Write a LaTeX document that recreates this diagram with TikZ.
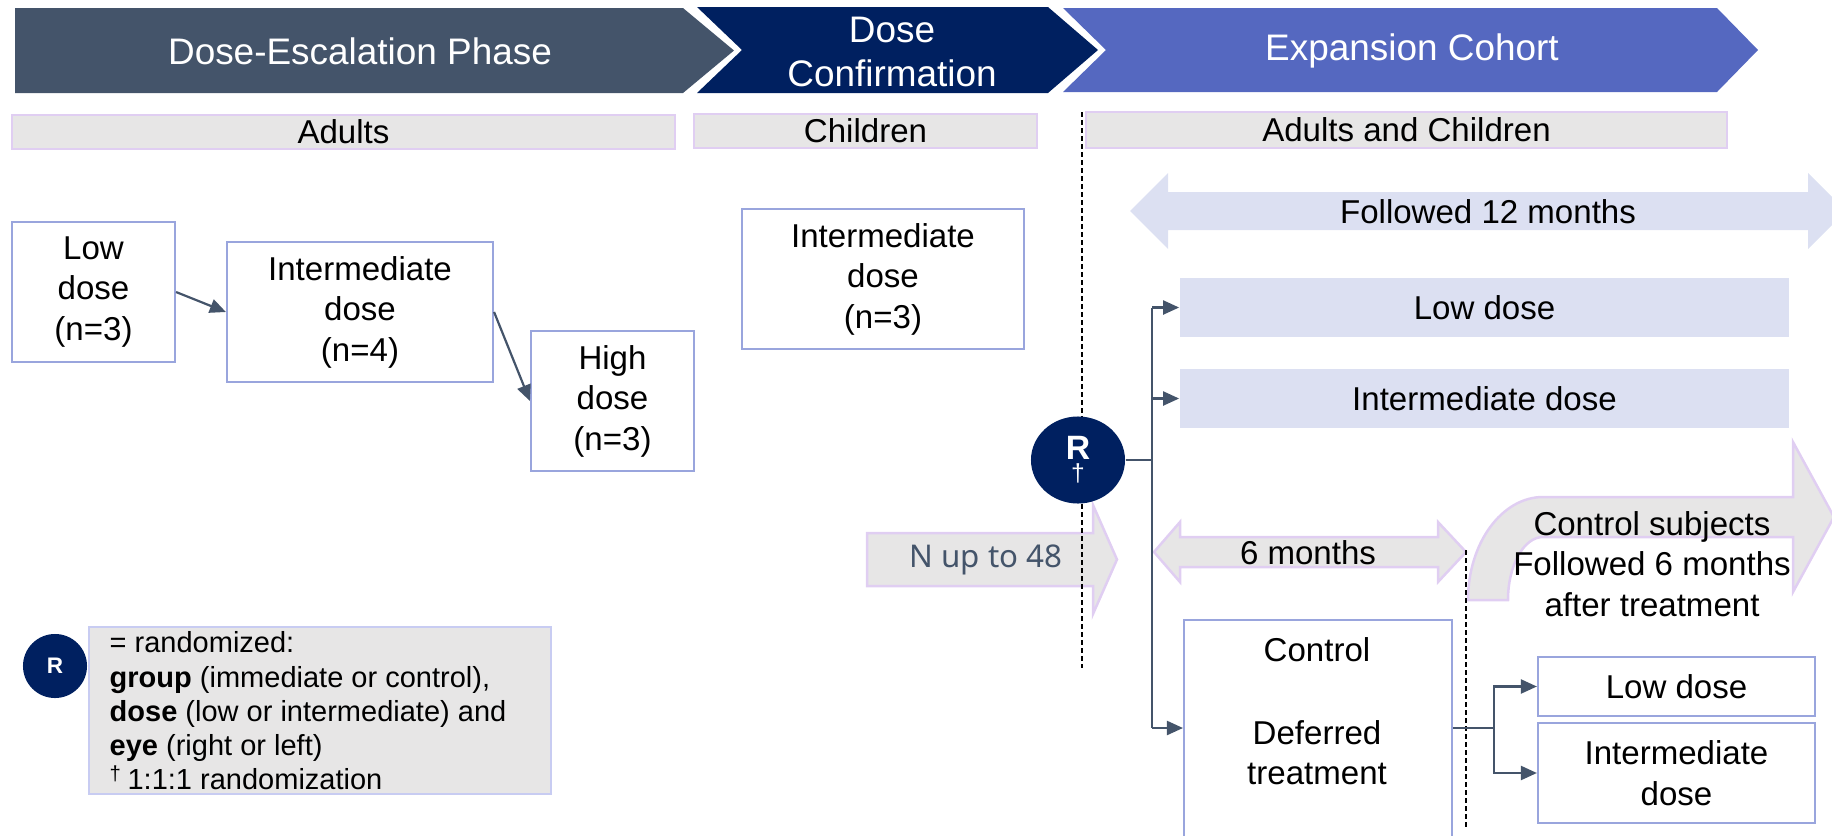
\documentclass[tikz,border=0pt]{standalone}
\usepackage{fontspec}
\setmainfont{Liberation Sans}
\newfontfamily\notosans{Noto Sans}
\usetikzlibrary{arrows.meta,shapes.geometric,calc}

\definecolor{slate}{HTML}{44546A}
\definecolor{navy}{HTML}{002060}
\definecolor{periw}{HTML}{5568C0}
\definecolor{panelgray}{HTML}{E7E6E6}
\definecolor{lavline}{HTML}{E0CEF2}
\definecolor{lavfill}{HTML}{DCE0F2}
\definecolor{boxblue}{HTML}{99A5DD}
\definecolor{legline}{HTML}{C8CCF2}

\newcommand\bodyfont{\fontsize{9.4}{11.5}\selectfont}
\newcommand\hdfont{\fontsize{10.5}{12.4}\selectfont}
\newcommand\keyfont{\fontsize{8.25}{9.75}\selectfont}

\begin{document}
\begin{tikzpicture}[x=0.01cm,y=-0.01cm,
  hd/.style={font=\hdfont,text=white,align=center,inner sep=0pt},
  txt/.style={font=\bodyfont,align=center,inner sep=0pt},
  wbox/.style={draw=boxblue,line width=0.02cm,fill=white,inner sep=0pt,align=center,font=\bodyfont},
  bar/.style={draw=lavline,line width=0.025cm,fill=panelgray,inner sep=0pt,font=\bodyfont},
  lbox/.style={fill=lavfill,inner sep=0pt,font=\bodyfont},
  blockarrow/.style={fill=panelgray,draw=lavline,line width=0.025cm},
  link/.style={draw=slate,line width=0.022cm},
  linkarrow/.style={link,-{Triangle[length=0.16cm,width=0.14cm]}},
  divider/.style={draw=black,line width=0.015cm,dash pattern=on 0.05cm off 0.03cm},
]
\useasboundingbox (0,0) rectangle (1832,836);
\clip (0,0) rectangle (1832,836);

% phase chevrons
\fill[slate] (15,8) -- (683,8) -- (734,50.5) -- (683,93) -- (15,93) -- cycle;
\fill[navy] (697,7) -- (1048,7) -- (1098,50) -- (1048,93) -- (697,93) -- (742,50) -- cycle;
\fill[periw] (1063,8) -- (1717,8) -- (1758,50) -- (1717,92) -- (1063,92) -- (1106,50) -- cycle;
\node[hd] (phase1) at (360,51) {Dose-Escalation Phase};
\node[hd] (phase2) at (892,52) {Dose\\Confirmation};
\node[hd] (phase3) at (1412,51) {Expansion Cohort};

% population bars
\node[bar,minimum width=6.63cm,minimum height=0.34cm] (adults) at (343.5,132) {Adults};
\node[bar,minimum width=3.43cm,minimum height=0.34cm] (children) at (865.5,131) {Children};
\node[bar,minimum width=6.41cm,minimum height=0.36cm] (both) at (1406.5,130) {Adults and Children};

% dose escalation
\node[wbox,minimum width=1.63cm,minimum height=1.40cm] (low) at (93.5,292) {Low\\dose\\(n=3)};
\node[wbox,minimum width=2.66cm,minimum height=1.40cm] (mid) at (360,312) {Intermediate\\dose\\(n=4)};
\node[wbox,minimum width=1.63cm,minimum height=1.40cm] (high) at (612.5,401) {High\\dose\\(n=3)};
\draw[linkarrow] (low.east) -- (mid.west);
\draw[linkarrow] (mid.east) -- (high.west);

% dose confirmation
\node[wbox,minimum width=2.82cm,minimum height=1.40cm] (kids) at (883,279) {Intermediate\\dose\\(n=3)};

% enrolment arrow
\filldraw[blockarrow] (867,533) -- (1093,533) -- (1093,505) -- (1117,559.5) -- (1093,614) -- (1093,586) -- (867,586) -- cycle;
\node[font=\notosans\fontsize{8.9}{10}\selectfont,text=slate,inner sep=0pt] (nup) at (986,560) {N up to 48};

% phase divider
\coordinate (d1top) at (1082,112);
\coordinate (d1bot) at (1082,668);
\draw[divider] (d1top) -- (d1bot);

% randomisation
\node[ellipse,fill=navy,minimum width=0.94cm,minimum height=0.87cm,inner sep=0pt,text=white,align=center,font=\fontsize{9.6}{6.2}\selectfont] (rnd) at (1078,460) {\textbf{R}\\{\fontsize{7}{6.2}\selectfont †}};

% follow-up span
\fill[lavfill] (1130,211) -- (1168,173) -- (1168,192) -- (1808,192) -- (1808,173) -- (1846,211) -- (1808,249) -- (1808,230) -- (1168,230) -- (1168,249) -- cycle;
\node[txt] (follow12) at (1488,212) {Followed 12 months};

% expansion arms
\node[lbox,minimum width=6.09cm,minimum height=0.59cm] (elow) at (1484.5,307.5) {Low dose\hspace{0.5cm}};
\node[lbox,minimum width=6.09cm,minimum height=0.59cm] (eint) at (1484.5,398.5) {Intermediate dose};

% six month span
\filldraw[blockarrow] (1154,552) -- (1180,522) -- (1180,537) -- (1438,537) -- (1438,522) -- (1466,552) -- (1438,582) -- (1438,567) -- (1180,567) -- (1180,582) -- cycle;
\node[txt] (six) at (1308,553) {6 months};

% control follow-up bent arrow
\filldraw[blockarrow] (1468,600) .. controls (1468,543) and (1502,497) .. (1543,497) -- (1793,497) -- (1793,442) -- (1834,517) -- (1793,592) -- (1793,537) -- (1543,537) .. controls (1524,537) and (1508,565) .. (1508,600) -- cycle;
\node[txt] (ctrlsub) at (1652,564) {Control subjects\\Followed 6 months\\after treatment};

% control arm
\node[wbox,anchor=north west,minimum width=2.68cm,minimum height=2.24cm] (ctrl) at (1183,619) {};
\node[txt] (ctrltext) at (1317,711) {Control\\[0.02cm]\\Deferred\\treatment};

% deferred treatment arms
\node[wbox,minimum width=2.77cm,minimum height=0.59cm] (slow) at (1676.5,686.5) {Low dose};
\node[wbox,minimum width=2.77cm,minimum height=1.00cm] (sint) at (1676.5,773) {Intermediate\\dose};

% second divider
\coordinate (d2top) at (1466,550);
\coordinate (d2bot) at (1466,828);
\draw[divider] (d2top) -- (d2bot);

% randomisation bus
\coordinate (bustop) at (1152,307.5);
\coordinate (busbot) at (1152,728);
\draw[link] (rnd.east) -- (rnd.east -| bustop);
\draw[link] (bustop) -- (busbot);
\draw[linkarrow] (bustop) -- (elow.west);
\draw[linkarrow] (bustop |- eint.west) -- (eint.west);
\draw[linkarrow] (busbot) -- (busbot -| ctrl.west);

% deferred split
\coordinate (split) at (1494,728);
\draw[link] (ctrl.east |- split) -- (split);
\draw[linkarrow] (split) |- (slow.west);
\draw[linkarrow] (split) |- (sint.west);

% key
\node[circle,fill=navy,minimum size=0.64cm,inner sep=0pt,text=white,font=\bfseries\fontsize{6.4}{7}\selectfont] (rkey) at (55,666) {R};
\node[draw=legline,fill=panelgray,line width=0.02cm,minimum width=4.62cm,minimum height=1.67cm,inner sep=0pt] (keybox) at (320,710.5) {};
\node[anchor=west,align=left,inner sep=0pt,font=\keyfont] (keytext) at (109,711) {= randomized:\\\textbf{group} (immediate or control),\\\textbf{dose} (low or intermediate) and\\\textbf{eye} (right or left)\\\textsuperscript{†}\,1:1:1 randomization};
\end{tikzpicture}
\end{document}
